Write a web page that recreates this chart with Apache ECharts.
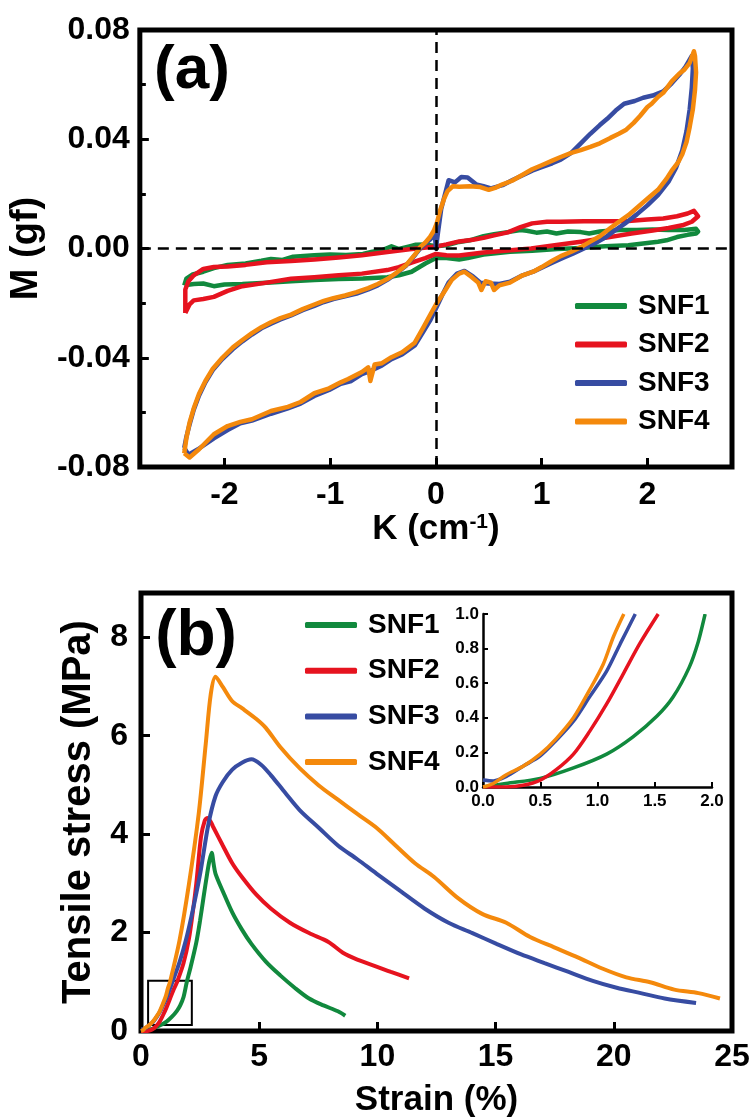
<!DOCTYPE html>
<html>
<head>
<meta charset="utf-8">
<script src="https://cdn.jsdelivr.net/npm/echarts@6/dist/echarts.min.js"></script>
<style>
html, body { margin: 0; padding: 0; background: #fff; }
#main { width: 755px; height: 1119px; }
</style>
</head>
<body>
<div id="main"></div>
<script>
var chartDom = document.getElementById('main');
var myChart = echarts.init(chartDom);
var option;

var FONT = 'Liberation Sans';
let seriesNames = ['SNF1', 'SNF2', 'SNF3', 'SNF4'];
let colors = ['#11893d', '#e6131f', '#374ca2', '#f4890c'];

// (a) moment vs curvature loops, [K, M]
let loopSNF1 = [[-2.38,-0.0135],[-2.36,-0.011],[-2.3,-0.0095],[-2.2,-0.0085],[-2.1,-0.0072],[-1.97,-0.006],[-1.8,-0.0055],[-1.65,-0.0045],[-1.56,-0.0038],[-1.45,-0.0042],[-1.35,-0.003],[-1.15,-0.0025],[-1.0,-0.0022],[-0.85,-0.0024],[-0.69,-0.002],[-0.6,-0.0012],[-0.5,-0.0005],[-0.42,0.0008],[-0.35,-0.0002],[-0.25,0.0008],[-0.19,0.0014],[-0.1,0.0015],[0.0,0.0008],[0.1,0.0012],[0.22,0.0024],[0.32,0.003],[0.45,0.0045],[0.55,0.0052],[0.68,0.006],[0.8,0.0068],[0.86,0.0065],[0.95,0.0058],[1.05,0.0062],[1.14,0.0055],[1.25,0.0062],[1.37,0.006],[1.45,0.0055],[1.55,0.0062],[1.73,0.0068],[1.9,0.0068],[2.05,0.007],[2.2,0.0068],[2.35,0.0068],[2.46,0.0072],[2.48,0.0062],
  [2.46,0.0055],[2.38,0.005],[2.28,0.0042],[2.18,0.003],[2.1,0.0025],[2.0,0.002],[1.82,0.0012],[1.6,0.0008],[1.37,0.0002],[1.15,-0.0002],[0.91,-0.0008],[0.7,-0.0012],[0.45,-0.0022],[0.3,-0.0035],[0.22,-0.004],[0.1,-0.0035],[0.0,-0.0035],[-0.1,-0.0055],[-0.23,-0.0085],[-0.35,-0.0098],[-0.46,-0.0105],[-0.69,-0.011],[-0.92,-0.0112],[-1.15,-0.0115],[-1.37,-0.012],[-1.6,-0.0125],[-1.83,-0.013],[-2.0,-0.0132],[-2.1,-0.0138],[-2.2,-0.0128],[-2.29,-0.013],[-2.38,-0.0135]];
let loopSNF2 = [[-2.37,-0.0236],[-2.37,-0.015],[-2.34,-0.012],[-2.29,-0.0098],[-2.2,-0.0075],[-2.1,-0.0068],[-1.97,-0.0066],[-1.8,-0.006],[-1.6,-0.005],[-1.37,-0.0046],[-1.15,-0.004],[-0.92,-0.0033],[-0.7,-0.0025],[-0.46,-0.0013],[-0.25,-0.0003],[0.0,0.0007],[0.1,0.0015],[0.22,0.0026],[0.35,0.0032],[0.45,0.0039],[0.55,0.0048],[0.68,0.0059],[0.8,0.0078],[0.91,0.0092],[1.05,0.0098],[1.18,0.0098],[1.4,0.01],[1.6,0.01],[1.82,0.0101],[2.0,0.0106],[2.15,0.011],[2.28,0.0118],[2.38,0.0128],[2.44,0.0138],[2.48,0.0118],
  [2.42,0.0098],[2.33,0.0085],[2.2,0.0075],[2.05,0.0066],[1.85,0.0055],[1.6,0.0039],[1.37,0.0025],[1.14,0.0013],[0.9,0.0],[0.68,-0.0007],[0.45,-0.0015],[0.22,-0.0026],[0.1,-0.0025],[0.0,-0.002],[-0.1,-0.0035],[-0.23,-0.0052],[-0.35,-0.0068],[-0.46,-0.0079],[-0.7,-0.0092],[-0.92,-0.0098],[-1.15,-0.0105],[-1.37,-0.0111],[-1.6,-0.0125],[-1.83,-0.0138],[-1.97,-0.0155],[-2.1,-0.0177],[-2.2,-0.0185],[-2.29,-0.019],[-2.33,-0.0205],[-2.37,-0.0236]];
let loopSNF3 = [[-2.38,-0.073],[-2.34,-0.0755],[-2.25,-0.0735],[-2.1,-0.0695],[-1.97,-0.0665],[-1.85,-0.064],[-1.74,-0.063],[-1.56,-0.0605],[-1.4,-0.0585],[-1.28,-0.0568],[-1.15,-0.054],[-1.01,-0.0518],[-0.9,-0.0495],[-0.8,-0.0485],[-0.7,-0.046],[-0.6,-0.0445],[-0.51,-0.0428],[-0.42,-0.0405],[-0.32,-0.0388],[-0.2,-0.0355],[-0.12,-0.0305],[-0.05,-0.026],[0,-0.022],[0.06,-0.017],[0.12,-0.0125],[0.2,-0.0092],[0.27,-0.0082],[0.35,-0.0102],[0.42,-0.0125],[0.5,-0.0128],[0.6,-0.013],[0.7,-0.0122],[0.82,-0.0098],[0.92,-0.0085],[1.0,-0.007],[1.1,-0.0052],[1.2,-0.0035],[1.3,-0.0018],[1.4,0],[1.5,0.0018],[1.6,0.004],[1.7,0.0068],[1.8,0.0095],[1.9,0.0125],[2.0,0.0158],[2.1,0.0195],[2.2,0.0245],[2.27,0.0295],[2.33,0.036],[2.37,0.043],[2.4,0.051],[2.42,0.059],[2.43,0.066],[2.42,0.0705],
  [2.36,0.0665],[2.3,0.0635],[2.23,0.0605],[2.15,0.0575],[2.05,0.056],[1.96,0.0552],[1.88,0.054],[1.78,0.053],[1.7,0.0505],[1.62,0.0475],[1.55,0.0452],[1.46,0.042],[1.37,0.0385],[1.28,0.035],[1.18,0.0325],[1.1,0.0312],[1.0,0.0298],[0.91,0.0285],[0.82,0.0268],[0.72,0.025],[0.63,0.0232],[0.52,0.022],[0.45,0.0228],[0.38,0.0235],[0.3,0.026],[0.24,0.0262],[0.18,0.0242],[0.12,0.025],[0.09,0.0205],[0.05,0.0145],[0.02,0.006],[0.0,0.0],[-0.01,0.005],[-0.05,0.0035],[-0.1,0.0018],[-0.15,0],[-0.19,-0.002],[-0.28,-0.0062],[-0.37,-0.009],[-0.46,-0.0115],[-0.55,-0.0135],[-0.64,-0.015],[-0.75,-0.0165],[-0.86,-0.0175],[-0.97,-0.0185],[-1.06,-0.0196],[-1.15,-0.021],[-1.26,-0.0226],[-1.37,-0.0245],[-1.47,-0.026],[-1.56,-0.0275],[-1.65,-0.0292],[-1.74,-0.0315],[-1.83,-0.034],[-1.92,-0.0368],[-2.02,-0.0405],[-2.11,-0.0445],[-2.18,-0.049],[-2.24,-0.0538],[-2.29,-0.059],[-2.33,-0.0645],[-2.36,-0.069],[-2.38,-0.073]];
let loopSNF4 = [[-2.38,-0.075],[-2.33,-0.0765],[-2.24,-0.0735],[-2.1,-0.068],[-1.97,-0.065],[-1.85,-0.0635],[-1.74,-0.0625],[-1.56,-0.0595],[-1.4,-0.058],[-1.28,-0.0562],[-1.15,-0.053],[-1.01,-0.0512],[-0.9,-0.049],[-0.83,-0.0478],[-0.7,-0.0452],[-0.64,-0.0435],[-0.62,-0.0485],[-0.58,-0.0425],[-0.51,-0.042],[-0.42,-0.0398],[-0.32,-0.038],[-0.2,-0.0345],[-0.12,-0.029],[-0.05,-0.024],[0,-0.0205],[0.09,-0.0152],[0.15,-0.0115],[0.22,-0.0092],[0.27,-0.0085],[0.34,-0.0105],[0.4,-0.0125],[0.43,-0.0152],[0.47,-0.012],[0.52,-0.0125],[0.55,-0.0152],[0.6,-0.0135],[0.7,-0.0125],[0.82,-0.0098],[0.92,-0.0085],[1.0,-0.0068],[1.1,-0.0045],[1.18,-0.0028],[1.28,-0.0012],[1.37,0.0005],[1.46,0.0025],[1.55,0.0045],[1.65,0.0075],[1.73,0.0098],[1.82,0.0122],[1.91,0.0152],[2.0,0.0182],[2.1,0.0215],[2.18,0.0255],[2.23,0.0285],[2.29,0.0315],[2.33,0.0345],[2.37,0.039],[2.4,0.0445],[2.43,0.051],[2.45,0.058],[2.46,0.0645],[2.45,0.0705],[2.44,0.0722],
  [2.4,0.068],[2.35,0.0655],[2.3,0.064],[2.23,0.0612],[2.15,0.057],[2.1,0.0555],[2.04,0.053],[2.0,0.0518],[1.93,0.0485],[1.87,0.046],[1.8,0.0435],[1.73,0.042],[1.65,0.0405],[1.55,0.0385],[1.46,0.0372],[1.37,0.036],[1.28,0.035],[1.18,0.0335],[1.1,0.0322],[1.0,0.0305],[0.91,0.029],[0.82,0.027],[0.72,0.0248],[0.63,0.0235],[0.56,0.0222],[0.5,0.0215],[0.42,0.0225],[0.32,0.0228],[0.22,0.0226],[0.16,0.0228],[0.11,0.021],[0.08,0.0185],[0.04,0.014],[0.01,0.0095],[-0.02,0.0065],[-0.06,0.004],[-0.1,0.0022],[-0.15,0.0005],[-0.19,-0.0018],[-0.28,-0.006],[-0.37,-0.0088],[-0.46,-0.0112],[-0.55,-0.013],[-0.64,-0.0145],[-0.75,-0.016],[-0.86,-0.0172],[-0.97,-0.0182],[-1.06,-0.0192],[-1.15,-0.0205],[-1.26,-0.0222],[-1.37,-0.0242],[-1.47,-0.0255],[-1.56,-0.027],[-1.65,-0.0288],[-1.74,-0.031],[-1.83,-0.0335],[-1.92,-0.0362],[-2.02,-0.04],[-2.11,-0.044],[-2.18,-0.0485],[-2.24,-0.0532],[-2.29,-0.0585],[-2.33,-0.0638],[-2.36,-0.0695],[-2.38,-0.075]];

// (b) tensile curves, [strain %, stress MPa]
let stressSNF1 = [[0,0],[0.2,0.02],[0.5,0.05],[0.79,0.11],[1.08,0.19],[1.31,0.29],[1.52,0.41],[1.66,0.52],[1.8,0.69],[1.94,1.0],[2.1,1.3],[2.34,1.8],[2.5,2.25],[2.64,2.7],[2.8,3.2],[2.89,3.45],[2.99,3.62],[3.07,3.4],[3.15,3.2],[3.46,2.84],[3.86,2.41],[4.27,2.06],[4.67,1.77],[5.28,1.41],[5.89,1.13],[6.5,0.88],[7.11,0.66],[7.72,0.52],[8.33,0.4],[8.64,0.31]];
let stressSNF2 = [[0,0],[0.2,0],[0.35,0.01],[0.5,0.04],[0.64,0.1],[0.79,0.19],[0.93,0.32],[1.08,0.48],[1.23,0.66],[1.37,0.83],[1.53,1.0],[1.8,1.38],[2.03,1.88],[2.2,2.45],[2.34,3.0],[2.54,3.95],[2.7,4.28],[2.8,4.33],[2.95,4.25],[3.05,4.15],[3.46,3.77],[3.86,3.41],[4.27,3.13],[4.88,2.77],[5.49,2.49],[6.3,2.2],[7.11,1.99],[7.93,1.81],[8.54,1.59],[9.15,1.45],[9.96,1.31],[10.57,1.2],[11.34,1.07]];
let stressSNF3 = [[0,0.04],[0.09,0.035],[0.2,0.06],[0.35,0.12],[0.5,0.18],[0.64,0.27],[0.79,0.38],[0.93,0.52],[1.08,0.67],[1.2,0.83],[1.33,1.0],[1.63,1.4],[1.9,1.85],[2.13,2.32],[2.35,2.82],[2.54,3.3],[2.85,4.2],[3.15,4.77],[3.46,5.06],[3.86,5.31],[4.27,5.45],[4.67,5.52],[5.08,5.41],[5.49,5.2],[6.1,4.84],[6.71,4.49],[7.52,4.13],[8.33,3.77],[9.15,3.49],[9.96,3.2],[10.98,2.84],[11.99,2.49],[13.01,2.2],[14.02,1.99],[15.04,1.77],[16.06,1.56],[17.07,1.38],[18.09,1.2],[19.11,1.02],[20.12,0.88],[21.14,0.77],[22.15,0.66],[23.48,0.57]];
let stressSNF4 = [[0,0],[0.09,0.02],[0.2,0.07],[0.35,0.12],[0.5,0.19],[0.64,0.28],[0.79,0.4],[0.93,0.56],[1.05,0.71],[1.14,0.87],[1.23,1.0],[1.63,1.84],[2.03,2.99],[2.44,4.41],[2.74,5.84],[2.95,6.84],[3.15,7.2],[3.46,6.99],[3.86,6.7],[4.27,6.56],[4.88,6.34],[5.28,6.16],[5.89,5.77],[6.71,5.34],[7.52,4.99],[8.33,4.7],[9.15,4.41],[9.96,4.13],[10.77,3.77],[11.59,3.41],[12.4,3.13],[13.41,2.7],[14.43,2.38],[15.45,2.2],[16.46,1.91],[17.48,1.7],[18.5,1.49],[19.51,1.27],[20.53,1.09],[21.54,0.99],[22.56,0.84],[23.58,0.77],[24.49,0.66]];

// inset (0-2 %, 0-1 MPa)
let insetSNF1 = [[0,0],[0.2,0.02],[0.5,0.05],[0.79,0.11],[1.08,0.19],[1.31,0.29],[1.52,0.41],[1.66,0.52],[1.8,0.69],[1.88,0.84],[1.94,1.0]];
let insetSNF2 = [[0,0],[0.1,0],[0.2,0],[0.35,0.01],[0.5,0.04],[0.64,0.1],[0.79,0.19],[0.93,0.32],[1.08,0.48],[1.23,0.66],[1.37,0.83],[1.53,1.0]];
let insetSNF3 = [[0,0.04],[0.09,0.035],[0.2,0.06],[0.35,0.12],[0.5,0.18],[0.64,0.27],[0.79,0.38],[0.93,0.52],[1.08,0.67],[1.2,0.83],[1.33,1.0]];
let insetSNF4 = [[0,0],[0.09,0.02],[0.2,0.07],[0.35,0.12],[0.5,0.19],[0.64,0.28],[0.79,0.4],[0.93,0.56],[1.05,0.71],[1.14,0.87],[1.23,1.0]];

// zoom box drawn on (b), [strain, stress] corners
let zoomBox = [[0.3, 0.12], [2.15, 1.02]];

let kappaTicks = [-2, -1, 0, 1, 2];
let stressTicks = [0, 2, 4, 6, 8];

let loops = [loopSNF1, loopSNF2, loopSNF3, loopSNF4];
let stresses = [stressSNF1, stressSNF2, stressSNF3, stressSNF4];
let insets = [insetSNF1, insetSNF2, insetSNF3, insetSNF4];

function tickLabel(size, margin) {
  return { fontSize: size, fontWeight: 'bold', fontFamily: FONT, color: '#000', margin: margin };
}
function inTick(len, w) {
  return { show: true, inside: true, length: len, lineStyle: { color: '#000', width: w } };
}

let series = [];
for (var i = 0; i < 4; i++) {
  series.push({
    name: seriesNames[i], type: 'line', xAxisIndex: 0, yAxisIndex: 0,
    data: loops[i], symbol: 'none', smooth: false, clip: false,
    lineStyle: { color: colors[i], width: 4.5, join: 'round' },
    itemStyle: { color: colors[i] }
  });
}
series[0].markLine = {
  silent: true, symbol: ['none', 'none'], label: { show: false },
  lineStyle: { color: '#000', type: [11, 7], width: 2.5 },
  data: [{ xAxis: 0 }, { yAxis: 0 }]
};
for (var i = 0; i < 4; i++) {
  series.push({
    name: seriesNames[i], type: 'line', xAxisIndex: 1, yAxisIndex: 1,
    data: stresses[i], symbol: 'none', smooth: 0.3,
    lineStyle: { color: colors[i], width: 4 },
    itemStyle: { color: colors[i] }
  });
}
series[4].markArea = {
  silent: true,
  itemStyle: { color: 'rgba(0,0,0,0)', borderColor: '#000', borderWidth: 2 },
  data: [[{ coord: zoomBox[0] }, { coord: zoomBox[1] }]]
};
for (var i = 0; i < 4; i++) {
  series.push({
    name: seriesNames[i] + ' inset', type: 'line', xAxisIndex: 2, yAxisIndex: 2,
    data: insets[i], symbol: 'none', smooth: 0.3,
    lineStyle: { color: colors[i], width: 3.5 },
    itemStyle: { color: colors[i] }
  });
}

let legendBase = {
  orient: 'vertical', icon: 'roundRect', itemWidth: 52, itemHeight: 6,
  data: seriesNames, selectedMode: false
};

option = {
  animation: false,
  backgroundColor: '#fff',
  grid: [
    { left: 137, top: 30, width: 595, height: 437, show: true, borderColor: '#000', borderWidth: 5 },
    { left: 141, top: 593, width: 591, height: 439, show: true, borderColor: '#000', borderWidth: 5 },
    { left: 483, top: 614, width: 229, height: 173 }
  ],
  xAxis: [
    {
      gridIndex: 0, type: 'value', min: -2.8, max: 2.8,
      name: 'K (cm{sup|-1})', nameLocation: 'middle', nameGap: 44,
      nameTextStyle: { fontSize: 35, fontWeight: 'bold', fontFamily: FONT, color: '#000',
        rich: { sup: { fontSize: 21, fontWeight: 'bold', fontFamily: FONT, verticalAlign: 'top', color: '#000' } } },
      axisLine: { show: false, onZero: false },
      axisTick: Object.assign(inTick(9, 3), { customValues: kappaTicks }),
      axisLabel: Object.assign(tickLabel(32, 12), { customValues: kappaTicks }),
      splitLine: { show: false }
    },
    {
      gridIndex: 1, type: 'value', min: 0, max: 25, interval: 5,
      name: 'Strain (%)', nameLocation: 'middle', nameGap: 52,
      nameTextStyle: { fontSize: 35, fontWeight: 'bold', fontFamily: FONT, color: '#000' },
      axisLine: { show: false, onZero: false },
      axisTick: inTick(9, 3),
      axisLabel: tickLabel(32, 10),
      splitLine: { show: false }
    },
    {
      gridIndex: 2, type: 'value', min: 0, max: 2, interval: 0.5,
      axisLine: { show: true, onZero: false, lineStyle: { color: '#000', width: 2.5 } },
      axisTick: inTick(5, 2),
      axisLabel: Object.assign(tickLabel(17, 6), { formatter: function (v) { return v.toFixed(1); } }),
      splitLine: { show: false }
    }
  ],
  yAxis: [
    {
      gridIndex: 0, type: 'value', min: -0.08, max: 0.08, interval: 0.04,
      name: 'M (gf)', nameLocation: 'middle', nameGap: 89,
      nameTextStyle: { fontSize: 38, fontWeight: 'bold', fontFamily: FONT, color: '#000' },
      axisLine: { show: false, onZero: false },
      axisTick: inTick(9, 3),
      minorTick: { show: true, splitNumber: 2, length: 6, lineStyle: { color: '#000', width: 3 } },
      axisLabel: Object.assign(tickLabel(32, 10), { formatter: function (v) { return v.toFixed(2); } }),
      splitLine: { show: false }
    },
    {
      gridIndex: 1, type: 'value', min: 0, max: 8.9,
      name: 'Tensile stress (MPa)', nameLocation: 'middle', nameGap: 42,
      nameTextStyle: { fontSize: 40, fontWeight: 'bold', fontFamily: FONT, color: '#000' },
      axisLine: { show: false, onZero: false },
      axisTick: Object.assign(inTick(9, 3), { customValues: stressTicks }),
      axisLabel: Object.assign(tickLabel(32, 13), { customValues: stressTicks }),
      splitLine: { show: false }
    },
    {
      gridIndex: 2, type: 'value', min: 0, max: 1, interval: 0.2,
      axisLine: { show: true, onZero: false, lineStyle: { color: '#000', width: 2.5 } },
      axisTick: inTick(5, 2),
      axisLabel: Object.assign(tickLabel(17, 4), { formatter: function (v) { return v.toFixed(1); } }),
      splitLine: { show: false }
    }
  ],
  legend: [
    Object.assign({}, legendBase, {
      left: 570, top: 287, itemGap: 10.5,
      textStyle: { fontSize: 28, fontWeight: 'bold', fontFamily: FONT, color: '#000', padding: [0, 0, 0, 6] }
    }),
    Object.assign({}, legendBase, {
      left: 300, top: 606, itemGap: 17.7,
      textStyle: { fontSize: 28, fontWeight: 'bold', fontFamily: FONT, color: '#000', padding: [0, 0, 0, 6] }
    })
  ],
  graphic: [
    { type: 'text', x: 192, y: 71, style: { text: '(a)', font: 'bold 62px "Liberation Sans"', fill: '#000', align: 'center', verticalAlign: 'middle' } },
    { type: 'text', x: 196, y: 637, style: { text: '(b)', font: 'bold 64px "Liberation Sans"', fill: '#000', align: 'center', verticalAlign: 'middle' } }
  ],
  series: series
};

option && myChart.setOption(option);
</script>
</body>
</html>
